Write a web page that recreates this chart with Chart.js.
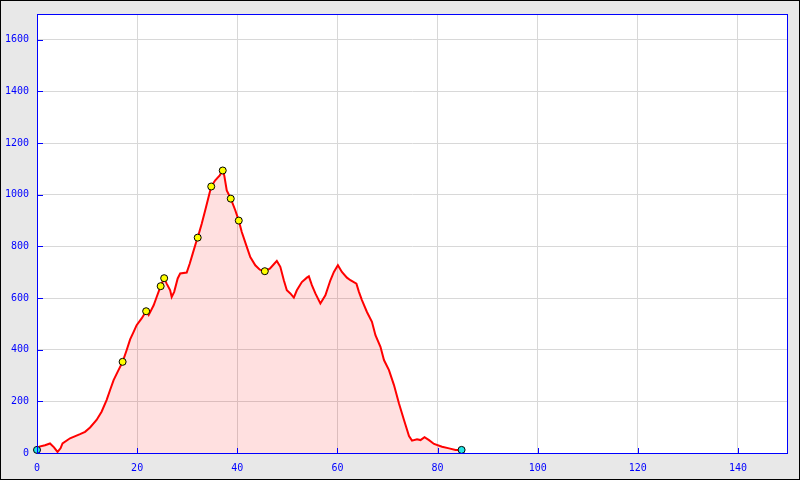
<!DOCTYPE html>
<html><head><meta charset="utf-8">
<script src="https://cdn.jsdelivr.net/npm/chart.js@4/dist/chart.umd.min.js"></script>
<style>html,body{margin:0;padding:0;background:#e8e8e8}canvas{display:block}</style>
</head><body>
<canvas id="c" width="800" height="480"></canvas>
<script>
// profile line (x, y)
const lineX = [0,0.5,1.6,2.6,3.4,4.1,4.7,5.1,6.6,8.6,9.6,10.6,11.9,12.9,13.9,14.6,15.3,16.2,17.1,17.9,18.6,19.3,19.9,20.9,21.8,22.3,23.3,23.9,24.7,25.4,25.9,26.6,26.9,27.4,28.1,28.6,29.9,30.5,31.1,31.9,32.1,32.9,33.6,34.8,35.6,36.5,37.1,37.4,37.9,38.7,39.6,40.3,40.9,41.8,42.6,43.6,44.5,45.5,46.5,47.3,47.9,48.6,49.3,49.9,50.6,51.3,51.9,52.9,53.9,54.3,54.9,55.6,56.6,57.6,58.6,59.3,60.1,60.9,61.9,62.6,63.8,64.3,64.9,65.9,66.9,67.6,68.6,69.3,70.3,71.3,72.3,73.3,74.3,74.9,75.9,76.6,77.4,78.3,79.3,80.9,82.3,83.6,84.8];
const lineY = [12,25,30,37,22,4,18,37,57,73,82,99,128,160,205,244,282,318,353,398,440,469,495,521,549,534,572,604,646,677,656,630,604,624,676,695,699,733,772,824,834,888,940,1032,1056,1075,1094,1075,1017,985,940,900,856,804,759,727,710,704,714,731,744,721,669,630,618,602,630,662,679,684,650,618,579,611,669,701,727,701,679,669,656,624,592,546,508,456,411,360,321,263,192,128,66,48,53,50,61,50,35,24,18,12,12];
// yellow markers
const markerX = [17.1,21.8,24.7,25.4,32.1,34.8,37.1,38.7,40.3,45.5];
const markerY = [353,549,646,677,834,1032,1094,985,900,704];
// cyan end points
const endX = [0,84.8];
const endY = [12,12];
const xTicks = [0,20,40,60,80,100,120,140];
const yTicks = [0,200,400,600,800,1000,1200,1400,1600];

const toPts = (xs, ys) => xs.map((x, i) => ({x, y: ys[i]}));
const BLUE = '#0000ff';
const FONT = {family: '"DejaVu Sans Mono", monospace', size: 10};

const framePlugin = {
  id: 'frame',
  beforeDraw(chart) {
    const ctx = chart.ctx, a = chart.chartArea;
    ctx.save();
    ctx.fillStyle = '#e8e8e8';
    ctx.fillRect(0, 0, chart.width, chart.height);
    ctx.fillStyle = '#ffffff';
    ctx.fillRect(a.left, a.top, a.right - a.left, a.bottom - a.top);
    ctx.restore();
  },
  afterDatasetsDraw(chart) {
    const ctx = chart.ctx, a = chart.chartArea;
    const xs = chart.scales.x, ys = chart.scales.y;
    ctx.save();
    ctx.strokeStyle = BLUE;
    ctx.lineWidth = 1;
    ctx.strokeRect(a.left + 0.5, a.top + 0.5, a.right - a.left - 1, a.bottom - a.top);
    ctx.beginPath();
    xTicks.forEach(v => {
      const px = Math.round(xs.getPixelForValue(v)) + 0.5;
      ctx.moveTo(px, a.bottom); ctx.lineTo(px, a.bottom - 5);
    });
    yTicks.forEach(v => {
      const py = Math.round(ys.getPixelForValue(v)) + 0.5;
      ctx.moveTo(a.left, py); ctx.lineTo(a.left + 6, py);
    });
    ctx.stroke();
    ctx.restore();
  },
  afterDraw(chart) {
    const ctx = chart.ctx;
    ctx.save();
    ctx.strokeStyle = '#000000';
    ctx.lineWidth = 1;
    ctx.strokeRect(0.5, 0.5, chart.width - 1, chart.height - 1);
    ctx.restore();
  }
};

new Chart(document.getElementById('c'), {
  type: 'line',
  data: {
    datasets: [
      {data: toPts(endX, endY), showLine: false, pointRadius: 3.5, pointBackgroundColor: '#22e6e6', pointBorderColor: '#000', pointBorderWidth: 1, order: 0, clip: false},
      {data: toPts(markerX, markerY), showLine: false, pointRadius: 3.5, pointBackgroundColor: '#ffff00', pointBorderColor: '#000', pointBorderWidth: 1, order: 1, clip: false},
      {data: toPts(lineX, lineY), borderColor: '#ff0000', borderWidth: 2, backgroundColor: 'rgba(255,0,0,0.12)', fill: 'origin', pointRadius: 0, tension: 0, order: 2}
    ]
  },
  options: {
    responsive: false, animation: false, devicePixelRatio: 1,
    layout: {padding: {top: 13, right: 12, left: 0, bottom: 0}},
    plugins: {legend: {display: false}, tooltip: {enabled: false}},
    scales: {
      x: {
        type: 'linear', min: 0, max: 150,
        afterBuildTicks: s => { s.ticks = xTicks.map(v => ({value: v})); },
        afterFit: s => { s.height = 27; },
        grid: {color: '#d8d8d8', drawTicks: false, lineWidth: 1},
        border: {display: false},
        ticks: {color: BLUE, font: FONT, padding: 9, maxRotation: 0, callback: v => String(v)}
      },
      y: {
        type: 'linear', min: 0, max: 1700,
        afterBuildTicks: s => { s.ticks = yTicks.map(v => ({value: v})); },
        afterFit: s => { s.width = 37; },
        grid: {color: '#d8d8d8', drawTicks: false, lineWidth: 1},
        border: {display: false},
        ticks: {color: BLUE, font: FONT, padding: 8, callback: v => String(v)}
      }
    }
  },
  plugins: [framePlugin]
});
</script>
</body></html>
